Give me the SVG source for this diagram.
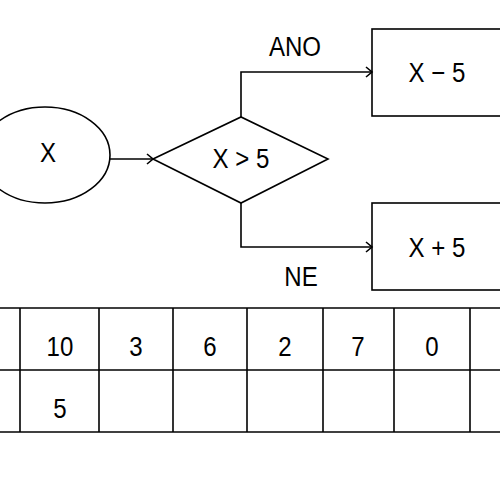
<svg xmlns="http://www.w3.org/2000/svg" width="500" height="500" viewBox="0 0 500 500">
<defs>
<style>
.s{fill:none;stroke:#000;stroke-width:1.6}
.t{font-family:"Liberation Sans",Arial,sans-serif;font-size:28px;fill:#000;text-anchor:middle}
</style>
<marker id="ah" markerWidth="12" markerHeight="12" refX="8" refY="6" orient="auto" markerUnits="userSpaceOnUse">
<polyline points="2,1 8,6 2,11" fill="none" stroke="#000" stroke-width="1.6"/>
</marker>
</defs>
<rect width="500" height="500" fill="#fff"/>
<g id="start">
<ellipse class="s" cx="45" cy="155" rx="65" ry="48"/>
<text class="t" transform="translate(48,162) scale(0.86,1)">X</text>
</g>
<g id="decision">
<polygon class="s" points="153,159 241,117 328,159 241,203"/>
<text class="t" transform="translate(241,168) scale(0.86,1)">X &gt; 5</text>
</g>
<g id="minus">
<rect class="s" x="372" y="29" width="140" height="87"/>
<text class="t" transform="translate(437,82) scale(0.86,1)">X − 5</text>
</g>
<g id="plus">
<rect class="s" x="372" y="203" width="140" height="87"/>
<text class="t" transform="translate(437,257) scale(0.86,1)">X + 5</text>
</g>
<g id="connectors">
<line class="s" x1="110" y1="159" x2="153" y2="159" marker-end="url(#ah)"/>
<polyline class="s" points="241,117 241,72 372,72" marker-end="url(#ah)"/>
<polyline class="s" points="241,203 241,247 372,247" marker-end="url(#ah)"/>
<text class="t" transform="translate(295,56) scale(0.86,1)">ANO</text>
<text class="t" transform="translate(301,286) scale(0.86,1)">NE</text>
</g>
<g id="table">
<line class="s" x1="0" y1="308" x2="500" y2="308"/>
<line class="s" x1="0" y1="370" x2="500" y2="370"/>
<line class="s" x1="0" y1="432" x2="500" y2="432"/>
<line class="s" x1="20" y1="308" x2="20" y2="432"/>
<line class="s" x1="99" y1="308" x2="99" y2="432"/>
<line class="s" x1="173" y1="308" x2="173" y2="432"/>
<line class="s" x1="247" y1="308" x2="247" y2="432"/>
<line class="s" x1="323" y1="308" x2="323" y2="432"/>
<line class="s" x1="394" y1="308" x2="394" y2="432"/>
<line class="s" x1="470" y1="308" x2="470" y2="432"/>
<text class="t" transform="translate(60,356) scale(0.86,1)">10</text>
<text class="t" transform="translate(136,356) scale(0.86,1)">3</text>
<text class="t" transform="translate(210,356) scale(0.86,1)">6</text>
<text class="t" transform="translate(285,356) scale(0.86,1)">2</text>
<text class="t" transform="translate(358,356) scale(0.86,1)">7</text>
<text class="t" transform="translate(432,356) scale(0.86,1)">0</text>
<text class="t" transform="translate(60,418) scale(0.86,1)">5</text>
</g>
</svg>
